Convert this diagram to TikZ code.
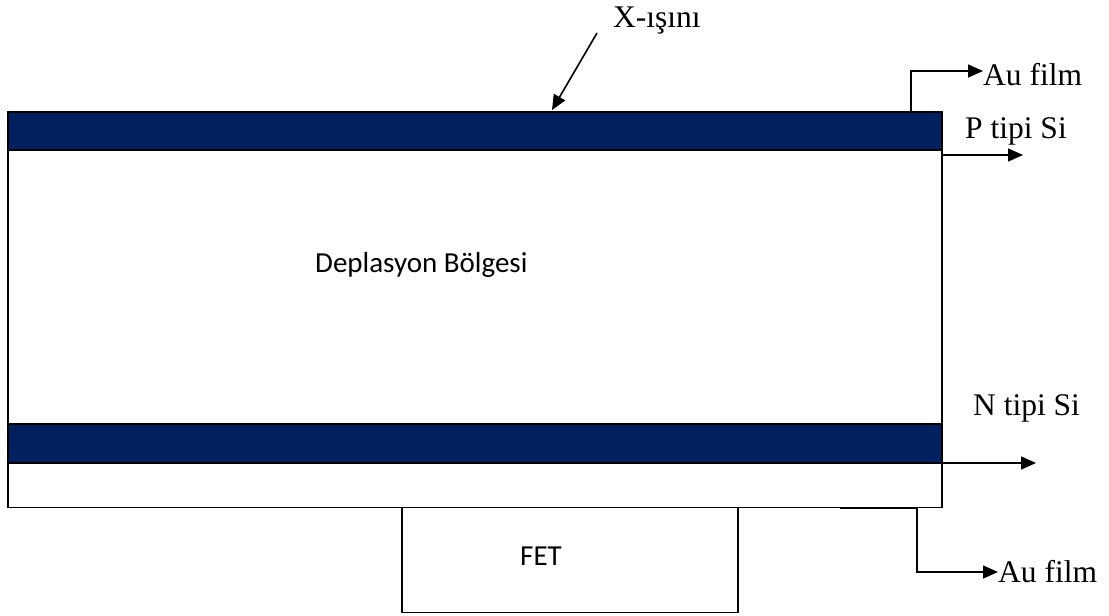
\documentclass[tikz,border=0pt]{standalone}
\usepackage{fontspec}
\setmainfont{Liberation Serif}
\newfontfamily\calibri{Carlito}
\usetikzlibrary{arrows.meta}
\definecolor{bandblue}{RGB}{0,32,96}
\tikzset{
  layer/.style={draw=black, line width=1.6pt, inner sep=0pt, outer sep=0pt},
  band/.style={layer, fill=bandblue},
  lbl/.style={inner sep=0pt, anchor=base west, font=\fontsize{31.5}{36}\selectfont},
  sanslbl/.style={inner sep=0pt, anchor=base west, font=\calibri\fontsize{29}{34}\selectfont},
  conn/.style={line width=1.6pt, -{Triangle[length=15pt,width=13pt]}},
}
\begin{document}
\begin{tikzpicture}[x=1pt,y=-1pt]
\useasboundingbox (0,0) rectangle (1109,616);
% body and layers
\node[layer, minimum width=934pt, minimum height=396pt] (body) at (475,309.5) {};
\node[band, minimum width=934pt, minimum height=38pt] (topband) at (475,131) {};
\node[band, minimum width=934pt, minimum height=39pt] (botband) at (475,443.5) {};
\node[layer, minimum width=336pt, minimum height=105pt] (fet) at (570,560) {};
% labels
\node[sanslbl] (dep) at (315,272) {Deplasyon Bölgesi};
\node[sanslbl] (fettxt) at (520,565) {FET};
\node[lbl] (xray) at (613,27) {X-ışını};
\node[lbl] (au1) at (983,85) {Au film};
\node[lbl] (psi) at (965,138) {P tipi Si};
\node[lbl] (nsi) at (973,415) {N tipi Si};
\node[lbl] (au2) at (998,582) {Au film};
% connector coordinates
\coordinate (xs) at (597,33);
\coordinate (xe) at (552,110);
\coordinate (a1s) at (911,112);
\coordinate (ps) at (942,155);
\coordinate (pe) at (1023,155);
\coordinate (ns) at (942,463);
\coordinate (ne) at (1036,463);
\coordinate (a2s) at (917,508);
% connectors
\draw[conn] (xs) -- (xe);
\draw[line width=1.6pt] (840,112) -- (a1s);
\draw[conn] (a1s) |- (au1.west |- 0,71);
\draw[conn] (ps) -- (pe);
\draw[conn] (ns) -- (ne);
\draw[line width=1.6pt] (840,508) -- (a2s);
\draw[conn] (a2s) |- (au2.west |- 0,572);
\end{tikzpicture}
\end{document}
